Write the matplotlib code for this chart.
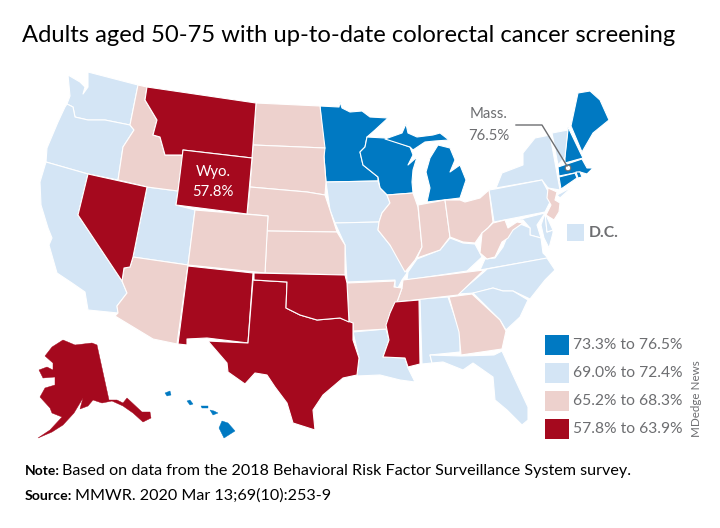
import matplotlib
matplotlib.use("Agg")
import matplotlib.pyplot as plt
from matplotlib.font_manager import FontProperties
from matplotlib.patches import Polygon, Rectangle, Circle
from matplotlib.textpath import TextPath

# outlines, in pixels (x, y down)
WA = [(68,75),(80,82),(85,87),(83,94),(88,87),(88,72),(138,85),(130,125),(105,120),(88,120),(75,117),(73,107),(67,104),(70,96)]
OR = [(67,104),(73,107),(75,117),(88,120),(105,120),(130,125),(134,130),(123,147),(118,180),(88,174),(46,162),(47,148),(58,122),(65,107)]
CA = [(46,162),(88,174),(78,215),(122,281),(127,293),(117,306),(118,313),(88,310),(85,292),(72,283),(57,273),(49,245),(52,238),(48,228),(41,205),(40,182)]
NV = [(88,174),(147,187),(133,257),(130,267),(124,268),(122,281),(78,215)]
ID = [(138,85),(147,87),(145,100),(157,120),(153,135),(160,137),(165,155),(183,155),(178,191),(147,187),(118,180),(123,147),(134,130),(130,125)]
MT = [(147,87),(256,103),(252,158),(183,150),(183,155),(165,155),(160,137),(153,135),(157,120),(145,100)]
WY = [(183,150),(252,158),(247,214),(176,205),(178,191)]
UT = [(147,187),(178,191),(176,205),(195,210),(188,265),(133,257)]
CO = [(195,210),(268,216),(265,273),(188,265)]
NM = [(188,266),(253,273),(248,343),(207,338),(187,339),(187,345),(178,344)]
AZ = [(133,257),(188,265),(177,344),(153,339),(115,316),(118,313),(117,306),(127,293),(122,281),(124,268),(130,267)]
TX = [(253,280),(287,282),(286,308),(300,315),(317,320),(340,318),(353,323),(353,340),(359,358),(357,375),(343,378),(323,395),(313,410),(315,430),(293,423),(287,403),(275,387),(267,375),(255,373),(245,384),(228,372),(227,363),(208,341),(248,343)]
OK = [(254,273),(345,275),(347,283),(349,322),(340,318),(317,320),(300,315),(286,308),(287,282),(254,280)]
KS = [(267,231),(337,232),(345,245),(345,275),(265,273)]
NE = [(250,187),(307,192),(325,195),(330,210),(337,232),(267,231),(268,216),(247,214)]
SD = [(253,145),(325,148),(324,157),(326,182),(325,195),(307,192),(250,187)]
ND = [(256,103),(320,106),(325,148),(253,145)]
MN = [(320,106),(339,107),(340,102),(342,108),(350,112),(362,111),(370,117),(388,118),(375,130),(367,137),(365,147),(360,152),(363,165),(378,177),(378,181),(326,182),(324,157)]
WI = [(367,137),(385,138),(410,147),(413,155),(408,165),(417,157),(413,170),(412,182),(413,193),(387,195),(380,188),(378,177),(363,165),(360,152),(365,147)]
MI_UP = [(385,139),(402,133),(406,124),(408,133),(417,137),(433,135),(440,133),(449,140),(435,141),(425,142),(413,150),(410,147)]
MI_LP = [(438,145),(450,148),(455,160),(450,172),(460,165),(466,180),(460,198),(427,202),(430,188),(426,172),(430,158)]
IA = [(326,182),(378,181),(380,188),(387,195),(390,203),(382,213),(379,222),(335,223),(330,210)]
MO = [(335,223),(379,222),(378,230),(390,245),(403,263),(407,273),(402,280),(398,288),(395,287),(395,280),(347,282),(345,245)]
IL = [(387,195),(413,193),(418,207),(422,247),(415,260),(405,272),(390,245),(378,230),(379,222),(382,213),(390,203)]
IN = [(418,205),(445,200),(450,237),(440,250),(417,258),(422,247)]
OH = [(445,200),(460,200),(465,202),(480,198),(489,190),(493,222),(488,228),(482,233),(475,243),(463,242),(450,237)]
KY = [(450,238),(463,243),(475,244),(482,257),(467,271),(407,280),(408,272),(417,259),(440,250)]
WV = [(493,223),(505,220),(508,228),(517,222),(523,223),(513,230),(508,238),(502,242),(495,257),(487,259),(480,253),(482,233),(488,228)]
PA = [(489,190),(495,189),(542,180),(549,193),(550,202),(545,212),(494,222)]
NY = [(496,188),(502,173),(523,165),(523,153),(535,138),(550,135),(560,190),(548,188),(542,180)]
VT = [(552,133),(568,130),(565,157),(558,165)]
NH = [(568,127),(580,152),(583,158),(565,163),(565,155)]
ME = [(571,126),(578,93),(590,91),(600,100),(609,120),(593,133),(582,152)]
MA = [(558,167),(582,159),(587,168),(593,168),(587,174),(580,172),(559,176)]
CT = [(559,177),(575,173),(577,178),(561,189)]
RI = [(576,172),(580,172),(582,177),(578,178)]
NJ = [(548,188),(557,192),(555,200),(560,203),(559,212),(554,220),(546,215),(551,205),(547,198)]
LI = [(557,195),(572,187),(560,198)]
DE = [(545,213),(553,230),(547,232)]
MD_W = [(505,223),(545,213),(541,219),(537,225),(541,238),(530,235),(530,228),(523,220)]
MD_E = [(545,213),(547,232),(553,230),(553,233),(549,248),(544,238),(541,225)]
VA = [(480,270),(485,259),(495,258),(503,247),(507,237),(515,223),(523,225),(530,228),(530,235),(541,238),(543,253),(548,258)]
NC = [(487,269),(547,258),(555,270),(545,280),(530,299),(513,291),(503,291),(493,288),(475,293),(458,294),(485,271)]
TN = [(403,280),(484,270),(458,295),(397,302),(402,288)]
AR = [(347,283),(395,281),(394,287),(402,288),(397,302),(390,313),(387,329),(353,331),(353,323),(349,322)]
LA = [(353,332),(386,329),(389,340),(383,357),(405,358),(408,368),(415,382),(400,380),(380,375),(357,376),(359,358)]
MS = [(395,302),(419,300),(420,364),(408,367),(405,358),(383,357),(389,340),(386,325),(390,313)]
AL = [(420,299),(448,297),(460,332),(460,352),(430,355),(432,363),(422,364)]
GA = [(449,297),(472,294),(500,320),(506,331),(502,349),(495,350),(461,355),(459,332)]
SC = [(473,293),(493,288),(503,291),(513,291),(528,300),(520,317),(506,330),(500,320)]
FL = [(430,355),(461,356),(494,355),(502,351),(513,375),(528,407),(528,420),(522,425),(507,410),(495,400),(493,377),(473,363),(463,370),(443,362),(432,363)]
AK = [(63,340),(75,345),(92,343),(97,345),(109,400),(117,400),(123,403),(127,398),(142,412),(150,412),(151,418),(143,422),(133,413),(123,406),(112,401),(102,403),(93,400),(88,406),(80,409),(83,398),(74,413),(63,425),(52,432),(38,438),(50,430),(62,417),(52,413),(50,408),(40,397),(45,388),(55,385),(55,377),(43,378),(39,370),(47,367),(53,370),(53,363),(45,356),(52,347)]
HI_BIG = [(222,421),(228,423),(235,431),(224,438),(219,428)]
HI_KAUAI = [(165,393),(170,391),(171,395),(167,396)]
HI_OAHU = [(187,401),(190,400),(193,404),(190,405)]
HI_MOLOKAI = [(201,406),(208,406),(208,408),(202,408)]
HI_MAUI = [(210,410),(214,411),(218,413),(213,415)]

# which colour band each state falls in
band_high = [MN, WI, MI_UP, MI_LP, ME, NH, MA, CT, RI]
band_hawaii = [HI_BIG, HI_KAUAI, HI_OAHU, HI_MOLOKAI, HI_MAUI]
band_mid = [WA, OR, CA, UT, IA, MO, NY, LI, VT, PA, MD_W, MD_E, DE, VA, NC, SC, KY, AL, LA, FL]
band_low = [ID, ND, SD, NE, KS, CO, AZ, IL, IN, OH, WV, NJ, TN, AR, GA]
band_lowest = [MT, WY, NV, NM, TX, OK, MS]

colors = ["#0079C2", "#D4E5F5", "#EDD1CD", "#A5091E"]
gray = "#6D6E71"
legend_labels = ["73.3% to 76.5%", "69.0% to 72.4%", "65.2% to 68.3%", "57.8% to 63.9%"]

title = "Adults aged 50-75 with up-to-date colorectal cancer screening"
note = "Based on data from the 2018 Behavioral Risk Factor Surveillance System survey."
source = "MMWR. 2020 Mar 13;69(10):253-9"

plt.rcParams["font.family"] = ["Lato", "DejaVu Sans"]


def fit(text, width_px, weight="normal"):
    # font size that makes the text about width_px wide
    prop = FontProperties(family="Lato", weight=weight)
    w = TextPath((0, 0), text, size=10, prop=prop).get_extents().width
    return 10 * width_px / (w * 100 / 72)


fig = plt.figure(figsize=(7.2, 5.28), dpi=100)
ax = fig.add_axes([0, 0, 1, 1])
ax.set_xlim(0, 720)
ax.set_ylim(528, 0)
ax.axis("off")

for band, color in zip([band_high, band_mid, band_low, band_lowest], colors):
    for outline in band:
        ax.add_patch(Polygon(outline, closed=True, facecolor=color, edgecolor="white", linewidth=0.8, joinstyle="round"))
ax.add_patch(Polygon(AK, closed=True, facecolor=colors[3], edgecolor=colors[3], linewidth=0.3))
for outline in band_hawaii:
    ax.add_patch(Polygon(outline, closed=True, facecolor=colors[0], edgecolor=colors[0], linewidth=0.3))

# legend
legend_size = fit(legend_labels[0], 108)
for y, color, label in zip([335, 363, 391, 419], colors, legend_labels):
    ax.add_patch(Rectangle((545, y), 24, 20, facecolor=color, edgecolor="none"))
    ax.text(573, y + 10, label, color=gray, fontsize=legend_size, va="center", ha="left")

# D.C. box
ax.add_patch(Rectangle((567, 224), 17, 17, facecolor=colors[1], edgecolor="none"))
ax.text(589, 233, "D.C.", color=gray, fontsize=fit("D.C.", 28, "bold"), va="center", ha="left", fontweight="bold")

# callouts
call_size = fit("57.8%", 40)
ax.text(213, 172, "Wyo.", color="white", fontsize=call_size, va="center", ha="center")
ax.text(213, 192, "57.8%", color="white", fontsize=call_size, va="center", ha="center")
ax.text(489, 114, "Mass.", color=gray, fontsize=call_size, va="center", ha="center")
ax.text(489, 136, "76.5%", color=gray, fontsize=call_size, va="center", ha="center")
ax.plot([516, 542, 567], [125, 125, 166], color=gray, linewidth=1)
ax.add_patch(Circle((568, 168), 2.8, facecolor="white", edgecolor=gray, linewidth=0.8))

ax.text(22, 35, title, color="black", fontsize=fit(title, 653), va="center", ha="left")
ax.text(697, 437, "MDedge News", color=gray, fontsize=fit("MDedge News", 75), rotation=90, va="bottom", ha="center")

note_size = fit(note, 568)
ax.text(25, 471, "Note:", color="black", fontsize=fit("Note:", 33, "bold"), va="center", ha="left", fontweight="bold")
ax.text(62, 471, note, color="black", fontsize=note_size, va="center", ha="left")
ax.text(25, 496, "Source:", color="black", fontsize=fit("Source:", 46, "bold"), va="center", ha="left", fontweight="bold")
ax.text(75, 496, source, color="black", fontsize=fit(source, 253), va="center", ha="left")

fig.savefig("out.png", dpi=100)
